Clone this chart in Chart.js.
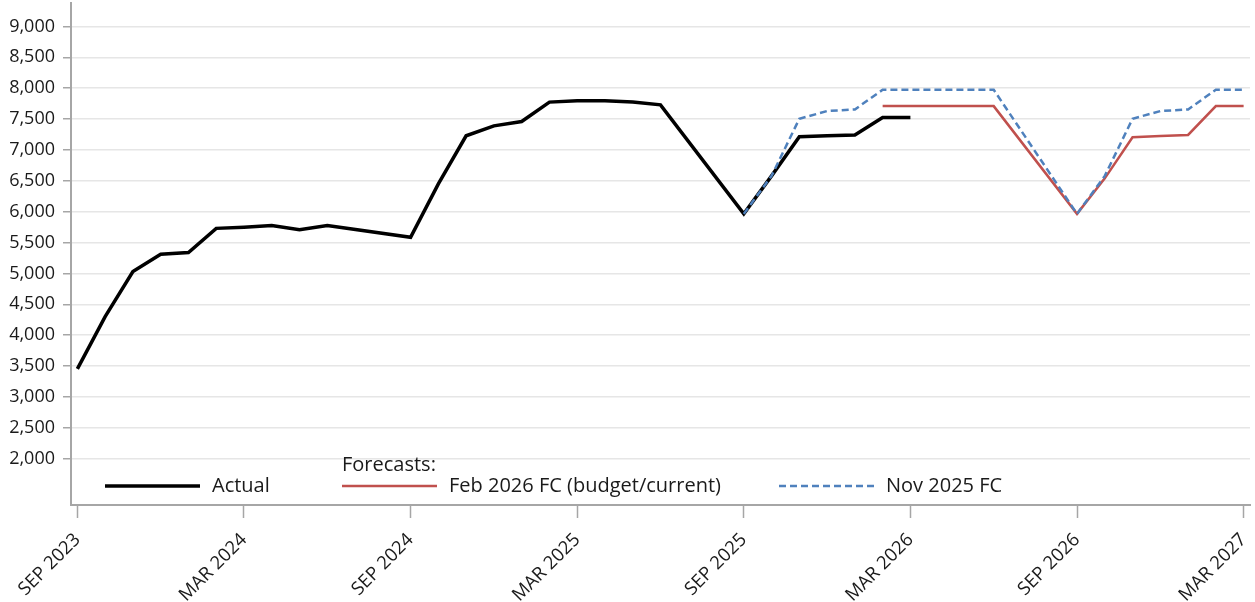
<!DOCTYPE html>
<html>
<head>
<meta charset="utf-8">
<script src="https://cdn.jsdelivr.net/npm/chart.js@4.4.1/dist/chart.umd.min.js"></script>
<style>
  html, body { margin: 0; padding: 0; background: #fff; }
  #wrap { width: 1255px; height: 602px; position: relative; }
</style>
</head>
<body>
<div id="wrap"><canvas id="chart"></canvas></div>
<script>
// month labels, SEP 2023 .. MAR 2027
const months = [
  'SEP 2023','OCT 2023','NOV 2023','DEC 2023','JAN 2024','FEB 2024','MAR 2024','APR 2024','MAY 2024','JUN 2024','JUL 2024','AUG 2024',
  'SEP 2024','OCT 2024','NOV 2024','DEC 2024','JAN 2025','FEB 2025','MAR 2025','APR 2025','MAY 2025','JUN 2025','JUL 2025','AUG 2025',
  'SEP 2025','OCT 2025','NOV 2025','DEC 2025','JAN 2026','FEB 2026','MAR 2026','APR 2026','MAY 2026','JUN 2026','JUL 2026','AUG 2026',
  'SEP 2026','OCT 2026','NOV 2026','DEC 2026','JAN 2027','FEB 2027','MAR 2027'
];

const actual = [
  3455, 4300, 5030, 5310, 5340, 5730, 5750, 5775, 5710, 5775, null, null,
  5585, 6450, 7230, 7390, 7460, 7775, 7795, 7795, 7775, 7730, null, null,
  5965, 6580, 7215, 7230, 7243, 7525, 7525, null, null, null, null, null,
  null, null, null, null, null, null, null
];

const feb2026Fc = [
  null, null, null, null, null, null, null, null, null, null, null, null,
  null, null, null, null, null, null, null, null, null, null, null, null,
  null, null, null, null, null, 7710, 7710, 7710, 7710, 7710, null, null,
  5965, 6540, 7206, 7225, 7243, 7710, 7710
];

const nov2025Fc = [
  null, null, null, null, null, null, null, null, null, null, null, null,
  null, null, null, null, null, null, null, null, null, null, null, null,
  5965, 6580, 7505, 7630, 7656, 7975, 7975, 7975, 7975, 7975, null, null,
  5965, 6580, 7505, 7630, 7656, 7975, 7975
];

const yTicks = [2000, 2500, 3000, 3500, 4000, 4500, 5000, 5500, 6000, 6500, 7000, 7500, 8000, 8500, 9000];
const xTicks = [0, 6, 12, 18, 24, 30, 36, 42];

const FONT = '"Open Sans", "DejaVu Sans", sans-serif';
const TEXT = '#1a1a1a';
const AXIS = '#a6a6a6';

// month index -> {x, y}, gaps left out so the line joins across them
const toPoints = arr => arr.map((v, i) => v == null ? null : { x: i, y: v }).filter(p => p);

// legend sits inside the plot, along the bottom
const insideLegend = {
  id: 'insideLegend',
  afterDraw(chart) {
    const { ctx, chartArea } = chart;
    const rowY = chartArea.bottom - 19;
    const starts = [34, 271, 708];
    const lineLen = 95;
    ctx.save();
    ctx.font = '20px ' + FONT;
    ctx.fillStyle = TEXT;
    ctx.textBaseline = 'middle';
    ctx.fillText('Forecasts:', chartArea.left + starts[1], rowY - 21);
    chart.data.datasets.forEach((ds, i) => {
      const x0 = chartArea.left + starts[i];
      ctx.beginPath();
      ctx.strokeStyle = ds.borderColor;
      ctx.lineWidth = ds.borderWidth;
      ctx.setLineDash(ds.borderDash || []);
      ctx.moveTo(x0, rowY);
      ctx.lineTo(x0 + lineLen, rowY);
      ctx.stroke();
      ctx.setLineDash([]);
      ctx.fillStyle = TEXT;
      ctx.fillText(ds.label, x0 + lineLen + 12, rowY);
    });
    ctx.restore();
  }
};

new Chart(document.getElementById('chart'), {
  type: 'line',
  data: {
    datasets: [
      { label: 'Actual', data: toPoints(actual), borderColor: '#000000', borderWidth: 3.5, order: 3 },
      { label: 'Feb 2026 FC (budget/current)', data: toPoints(feb2026Fc), borderColor: '#c0504d', borderWidth: 2.5, order: 2 },
      { label: 'Nov 2025 FC', data: toPoints(nov2025Fc), borderColor: '#4f81bd', borderWidth: 2.5, borderDash: [7, 4], order: 1 }
    ]
  },
  options: {
    responsive: true,
    maintainAspectRatio: false,
    animation: false,
    layout: { padding: { top: 3, right: 5, left: 0, bottom: 0 } },
    elements: {
      point: { radius: 0, hoverRadius: 0 },
      line: { tension: 0, borderJoinStyle: 'miter', borderCapStyle: 'butt', fill: false }
    },
    plugins: {
      legend: { display: false },
      tooltip: { enabled: false }
    },
    scales: {
      x: {
        type: 'linear',
        min: -0.23,
        max: 42.23,
        afterBuildTicks: s => { s.ticks = xTicks.map(v => ({ value: v })); },
        afterFit: s => { s.height = 97; s.paddingLeft = 0; s.paddingRight = 0; },
        grid: { drawOnChartArea: false, drawTicks: true, tickLength: 13, tickColor: AXIS, tickWidth: 1.5 },
        border: { color: AXIS, width: 2 },
        ticks: {
          autoSkip: false,
          maxRotation: 45,
          minRotation: 45,
          padding: 11,
          color: TEXT,
          font: { family: FONT, size: 18.5 },
          callback: v => months[v]
        }
      },
      y: {
        min: 1250,
        max: 9380,
        afterBuildTicks: s => { s.ticks = yTicks.map(v => ({ value: v })); },
        afterFit: s => { s.width = 71; s.paddingTop = 0; s.paddingBottom = 0; },
        grid: { color: '#e6e6e6', lineWidth: 1.5, tickColor: AXIS, tickLength: 8, tickWidth: 1.5 },
        border: { color: AXIS, width: 2 },
        ticks: {
          padding: 8,
          color: TEXT,
          font: { family: FONT, size: 18 },
          callback: v => v.toLocaleString('en-US')
        }
      }
    }
  },
  plugins: [insideLegend]
});
</script>
</body>
</html>
